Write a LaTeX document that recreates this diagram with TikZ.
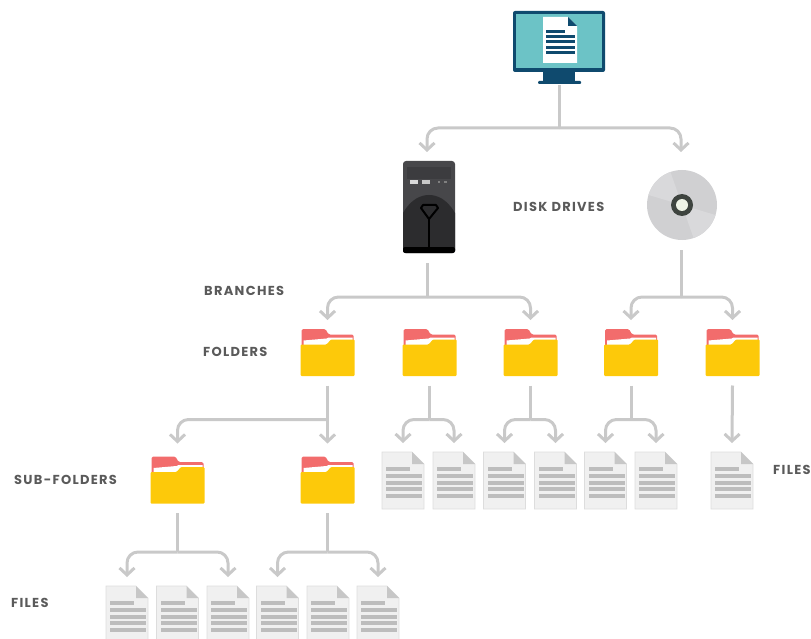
\documentclass[tikz,border=0pt]{standalone}
\usepackage{fontspec}
\usetikzlibrary{arrows.meta}
\newfontfamily\lab[LetterSpace=10]{Poppins}
\definecolor{conn}{HTML}{C9C9C9}
\definecolor{labc}{HTML}{5A5A5A}
\definecolor{navy}{HTML}{0F4A6E}
\definecolor{teal}{HTML}{6CC3C6}
\definecolor{fyel}{HTML}{FDC90A}
\definecolor{fred}{HTML}{F26C6C}
\definecolor{dpage}{HTML}{F0F0F0}
\definecolor{dedge}{HTML}{DDDDDD}
\definecolor{dline}{HTML}{BDBDBD}
\definecolor{tbody}{HTML}{47474A}
\definecolor{tdome}{HTML}{2C2C2E}
\definecolor{tpanel}{HTML}{3C3C3F}
\definecolor{discg}{HTML}{D0D0D2}
\definecolor{discl}{HTML}{D9D9DB}
\definecolor{hubd}{HTML}{3E443F}
\definecolor{hubl}{HTML}{EEF3E6}
\tikzset{
  x=1pt,y=-1pt,
  stem/.style={draw=conn,line width=3pt},
  link/.style={draw=conn,line width=3pt,rounded corners=11pt,-{Straight Barb[length=7pt,width=15pt]}},
  lbl/.style={text=labc,font=\lab\bfseries\fontsize{13}{15}\selectfont,inner sep=0pt,anchor=west},
  monitor/.pic={
    \fill[navy,rounded corners=2pt] (-46,-36) rectangle (46,25);
    \fill[teal] (-43,-33) rectangle (43,21);
    \fill[navy] (-16,25) rectangle (16,34);
    \fill[navy,rounded corners=1pt] (-21,34) rectangle (22,37);
    \fill[white] (-16,-30) -- (9,-30) -- (18,-21) -- (18,16) -- (-16,16) -- cycle;
    \fill[navy] (9,-30) -- (18,-21) -- (9,-21) -- cycle;
    \foreach \yy/\xx in {-15/6,-10/16,-5/16,1/16,6/16}
      \fill[navy] (-13,\yy-1.5) rectangle (\xx,\yy+1.5);
    \coordinate (-bot) at (0,38);
  },
  tower/.pic={
    \fill[tbody,rounded corners=3pt] (-26,-46) rectangle (26,46);
    \fill[tpanel] (-22,-40) rectangle (22,-28);
    \fill[black!15] (-19,-27) rectangle (-11,-23);
    \fill[black!22] (-7,-27) rectangle (1,-23);
    \fill[black!50] (9,-26) rectangle (11,-24);
    \fill[black!50] (15,-26) rectangle (18,-24);
    \fill[tdome] (-26,44) -- (-26,6) .. controls (-18,-8) and (-8,-12) .. (0,-12) .. controls (8,-12) and (18,-8) .. (26,6) -- (26,44) -- cycle;
    \fill[black,rounded corners=2pt] (-26,40) rectangle (26,46);
    \draw[black,line width=2pt,line join=round] (0,12) -- (-8,1) -- (-6,-2) -- (7,-2) -- (9,1) -- cycle;
    \draw[black,line width=1.6pt] (0,12) -- (0,42);
    \coordinate (-top) at (-2,-55);
    \coordinate (-bot) at (-2,56);
  },
  disc/.pic={
    \begin{scope}
      \clip (0,0) circle[radius=35];
      \fill[discg] (-36,-36) rectangle (36,36);
      \fill[discl] (0,0) -- (40,12) -- (36,36) -- (14,40) -- cycle;
      \fill[discl] (0,0) -- (-40,-12) -- (-36,-36) -- (-14,-40) -- cycle;
    \end{scope}
    \fill[hubd] (0,0) circle[radius=11];
    \fill[hubl] (0,0) circle[radius=6];
    \coordinate (-top) at (-1,-53);
    \coordinate (-bot) at (-1,45);
  },
  folder/.pic={
    \fill[fred,rounded corners=1.5pt] (-26,0) -- (-26,-23.5) -- (-2,-23.5) -- (1,-18) -- (26,-18) -- (26,0) -- cycle;
    \fill[white] (-24,-12) -- (-1,-14) -- (1,-15) -- (25,-15) -- (25,-5) -- (-24,-5) -- cycle;
    \fill[fyel,rounded corners=1pt] (-27,-8) -- (-1,-8) -- (3.5,-13) -- (27,-13) -- (27,23.5) -- (-27,23.5) -- cycle;
    \coordinate (-top) at (0,-32.5);
    \coordinate (-bot) at (0,33);
  },
  docfile/.pic={
    \fill[dpage,draw=dedge,line width=0.6pt] (-21,-29) -- (9,-29) -- (21,-17) -- (21,28) -- (-21,28) -- cycle;
    \fill[dline!85] (9,-29) -- (21,-17) -- (9,-17) -- cycle;
    \foreach \yy/\xx in {-12/7,-5/19,2/19,8/19,15/19}
      \fill[dline] (-17,\yy-1.6) rectangle (\xx,\yy+1.6);
    \coordinate (-top) at (0,-38);
  },
}
\begin{document}
\begin{tikzpicture}
\useasboundingbox (0,0) rectangle (811,639);
\clip (0,0) rectangle (811,639);
% icons
\pic (m) at (559,47) {monitor};
\pic (t) at (429,207) {tower};
\pic (d) at (682,205) {disc};
\pic (f1) at (327.5,352.5) {folder};
\pic (f2) at (429.5,352.5) {folder};
\pic (f3) at (530.5,352.5) {folder};
\pic (f4) at (631,352.5) {folder};
\pic (f5) at (732.5,352.5) {folder};
\pic (s1) at (177.5,480) {folder};
\pic (s2) at (327.5,480) {folder};
\pic (a1) at (403,481) {docfile};
\pic (a2) at (454,481) {docfile};
\pic (a3) at (504.5,481) {docfile};
\pic (a4) at (555.5,481) {docfile};
\pic (a5) at (605.5,481) {docfile};
\pic (a6) at (656,481) {docfile};
\pic (a7) at (732,481) {docfile};
\pic (b1) at (127,615) {docfile};
\pic (b2) at (177.5,615) {docfile};
\pic (b3) at (228,615) {docfile};
\pic (b4) at (277.5,615) {docfile};
\pic (b5) at (328,615) {docfile};
\pic (b6) at (378,615) {docfile};
% connectors
\draw[stem] (m-bot) -- ++(0,43) coordinate (jm);
\draw[link] (jm) -| (t-top);
\draw[link] (jm) -| (d-top);
\draw[stem] (t-bot) -- ++(0,34) coordinate (jt);
\draw[link] (jt) -| (f1-top);
\draw[link] (jt) -| (f3-top);
\draw[stem] (d-bot) -- ++(0,47) coordinate (jd);
\draw[link] (jd) -| (f4-top);
\draw[link] (jd) -| (f5-top);
\draw[stem] (f1-bot) -- ++(0,34) coordinate (j1);
\draw[link,shorten >=4pt] (j1) -| (s1-top);
\draw[link,shorten >=4pt] (j1) -- (s2-top);
\draw[stem] (f2-bot) -- ++(0,34) coordinate (j2);
\draw[link] (j2) -| (a1-top);
\draw[link] (j2) -| (a2-top);
\draw[stem] (f3-bot) -- ++(0,34) coordinate (j3);
\draw[link] (j3) -| (a3-top);
\draw[link] (j3) -| (a4-top);
\draw[stem] (f4-bot) -- ++(0,34) coordinate (j4);
\draw[link] (j4) -| (a5-top);
\draw[link] (j4) -| (a6-top);
\draw[link] (f5-bot) -- (a7-top);
\draw[stem] (s1-bot) -- ++(0,39) coordinate (j5);
\draw[link] (j5) -| (b1-top);
\draw[link] (j5) -| (b3-top);
\draw[stem] (s2-bot) -- ++(0,39) coordinate (j6);
\draw[link] (j6) -| (b4-top);
\draw[link] (j6) -| (b6-top);
% labels
\node[lbl] (l1) at (513,207) {DISK DRIVES};
\node[lbl] (l2) at (204,291) {BRANCHES};
\node[lbl] (l3) at (203,352) {FOLDERS};
\node[lbl] (l4) at (14,480) {SUB-FOLDERS};
\node[lbl] (l5) at (773,470) {FILES};
\node[lbl] (l6) at (11,603) {FILES};
\end{tikzpicture}
\end{document}
